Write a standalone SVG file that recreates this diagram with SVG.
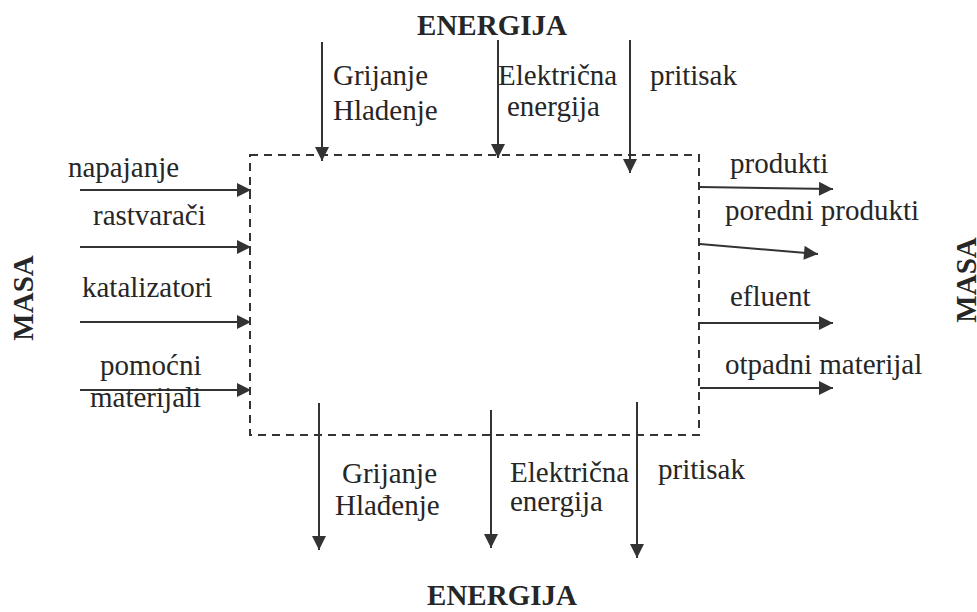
<svg xmlns="http://www.w3.org/2000/svg" width="977" height="612" viewBox="0 0 977 612">
<style>
text{font-family:"Liberation Serif","DejaVu Serif",serif;font-size:29px;fill:#262626}
.b{font-weight:bold}
.ln{stroke:#333;stroke-width:2;fill:none}
.box{stroke:#333;stroke-width:2;fill:none;stroke-dasharray:8 6}
</style>
<defs>
<marker id="ah" viewBox="0 0 10 10" refX="10" refY="5" markerWidth="16" markerHeight="14" markerUnits="userSpaceOnUse" orient="auto">
<path d="M0,0 L10,5 L0,10 Z" fill="#333"/>
</marker>
</defs>
<rect width="977" height="612" fill="#fff"/>
<g id="process-box"><rect class="box" x="250" y="155" width="449" height="280"/></g>
<g id="connectors">
<line class="ln" x1="322" y1="42" x2="322" y2="161" marker-end="url(#ah)"/>
<line class="ln" x1="498" y1="40" x2="498" y2="158" marker-end="url(#ah)"/>
<line class="ln" x1="630" y1="40" x2="630" y2="173" marker-end="url(#ah)"/>
<line class="ln" x1="80" y1="190" x2="251" y2="190" marker-end="url(#ah)"/>
<line class="ln" x1="80" y1="247" x2="251" y2="247" marker-end="url(#ah)"/>
<line class="ln" x1="80" y1="322" x2="251" y2="322" marker-end="url(#ah)"/>
<line class="ln" x1="80" y1="390" x2="251" y2="390" marker-end="url(#ah)"/>
<line class="ln" x1="700" y1="187" x2="833" y2="189" marker-end="url(#ah)"/>
<line class="ln" x1="700" y1="244" x2="818" y2="254" marker-end="url(#ah)"/>
<line class="ln" x1="700" y1="323" x2="833" y2="323" marker-end="url(#ah)"/>
<line class="ln" x1="700" y1="388" x2="833" y2="388" marker-end="url(#ah)"/>
<line class="ln" x1="319" y1="403" x2="319" y2="550" marker-end="url(#ah)"/>
<line class="ln" x1="491" y1="410" x2="491" y2="548" marker-end="url(#ah)"/>
<line class="ln" x1="637" y1="402" x2="637" y2="558" marker-end="url(#ah)"/>
</g>
<g id="energy-top">
<text class="b" x="492" y="35" text-anchor="middle">ENERGIJA</text>
<text x="333" y="85">Grijanje</text>
<text x="333" y="120">Hladenje</text>
<text x="498" y="85">Električna</text>
<text x="507" y="116">energija</text>
<text x="650" y="85">pritisak</text>
</g>
<g id="energy-bottom">
<text class="b" x="502" y="605" text-anchor="middle">ENERGIJA</text>
<text x="342" y="483">Grijanje</text>
<text x="335" y="515">Hlađenje</text>
<text x="510" y="482">Električna</text>
<text x="510" y="511">energija</text>
<text x="658" y="479">pritisak</text>
</g>
<g id="mass-in">
<text class="b" transform="translate(33,298) rotate(-90)" text-anchor="middle">MASA</text>
<text x="68" y="177">napajanje</text>
<text x="93" y="225">rastvarači</text>
<text x="82" y="297">katalizatori</text>
<text x="100" y="375">pomoćni</text>
<text x="90" y="407">materijali</text>
</g>
<g id="mass-out">
<text class="b" transform="translate(976,280) rotate(-90)" text-anchor="middle">MASA</text>
<text x="730" y="173">produkti</text>
<text x="725" y="220">poredni produkti</text>
<text x="730" y="306">efluent</text>
<text x="725" y="374">otpadni materijal</text>
</g>
</svg>
